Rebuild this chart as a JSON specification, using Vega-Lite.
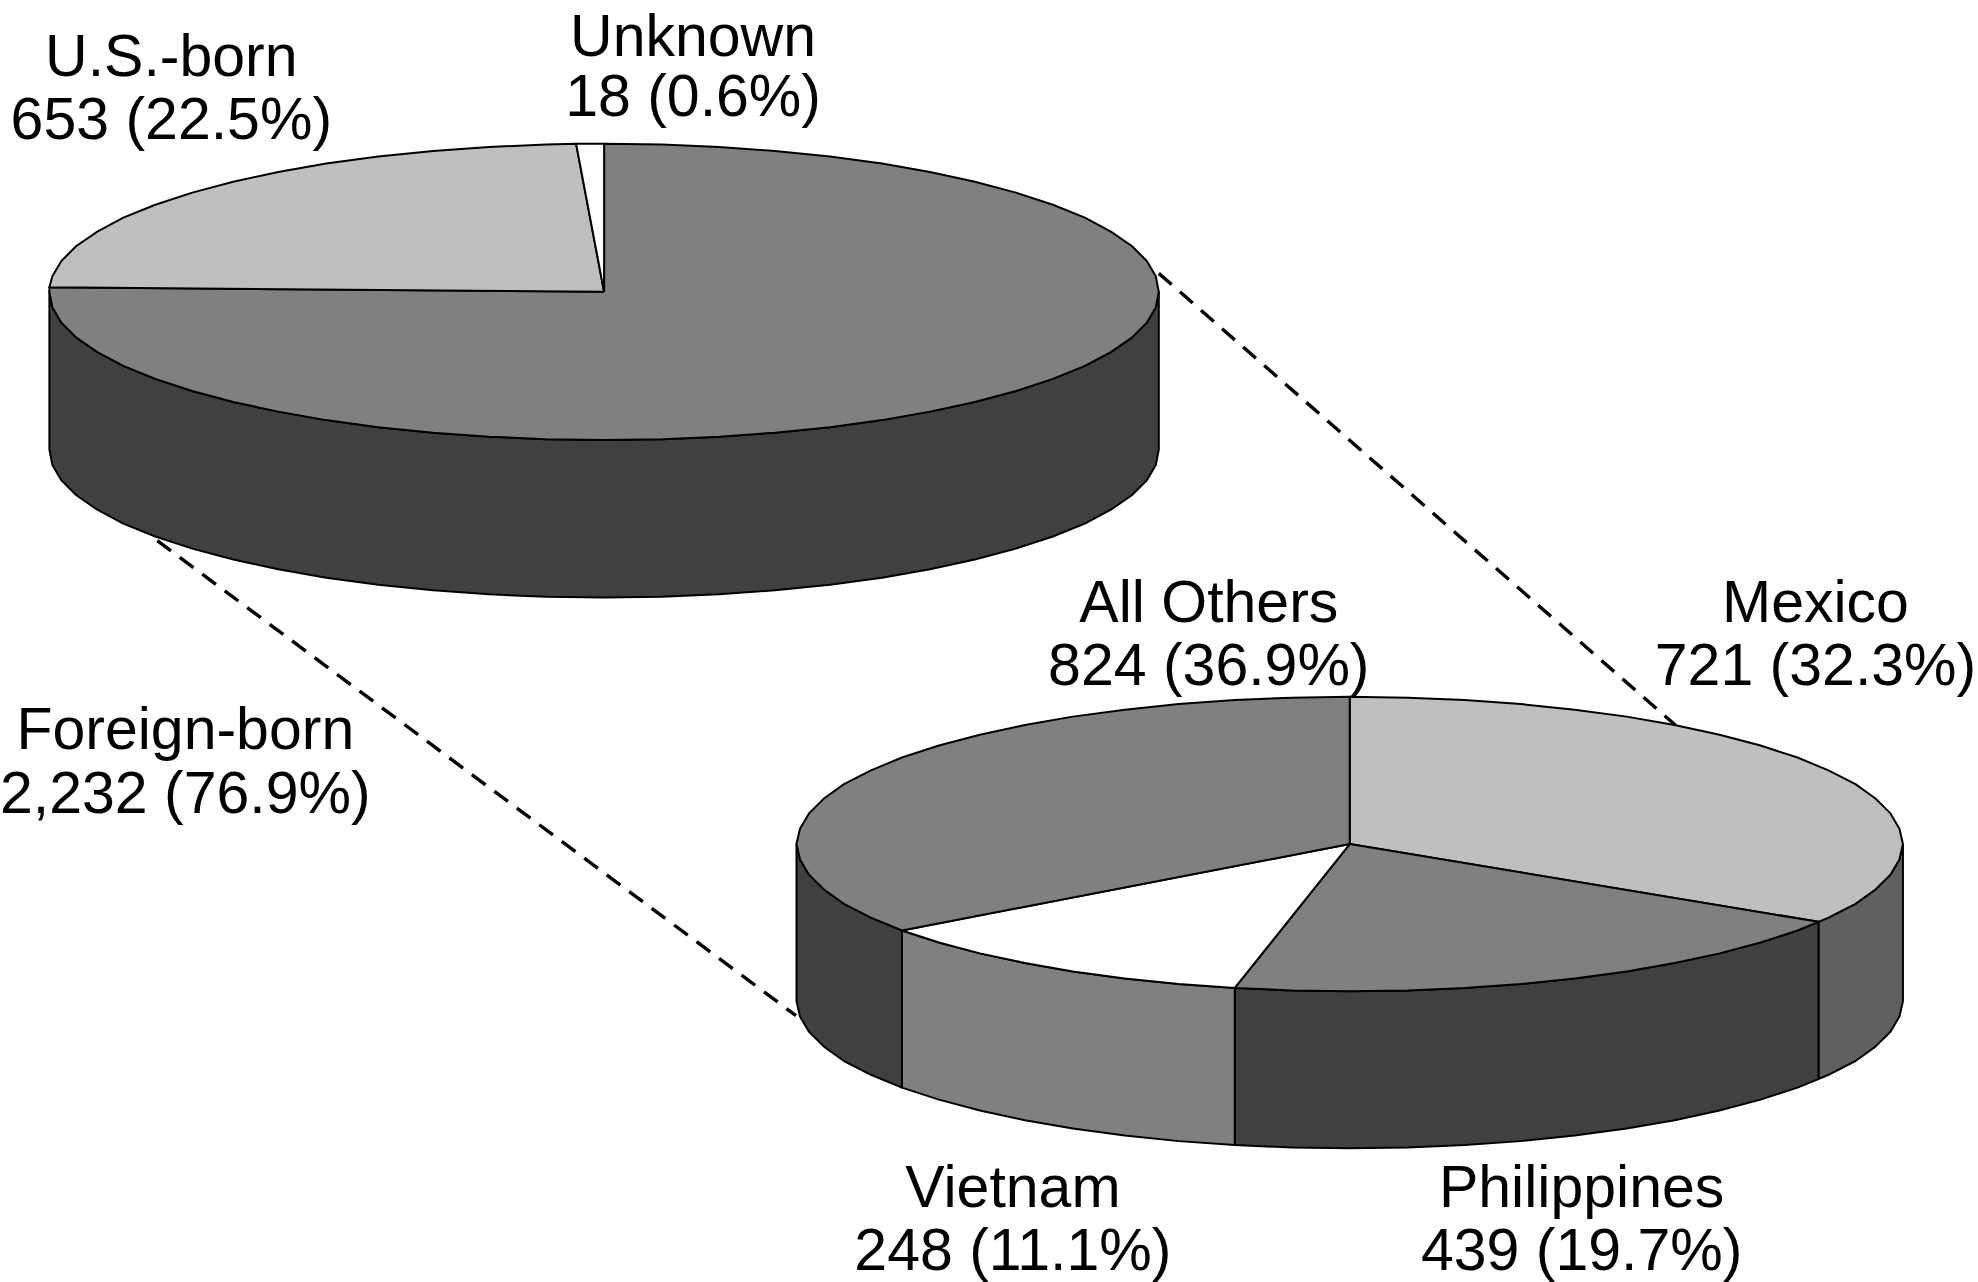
{"$schema":"https://vega.github.io/schema/vega-lite/v6.json","width":1978,"height":1282,"padding":0,"autosize":{"type":"fit","contains":"padding"},"background":"white","config":{"view":{"stroke":null}},
"encoding":{"x":{"field":"x","type":"quantitative","axis":null,"scale":{"domain":[-0.4,1977.6],"nice":false,"zero":false}},"y":{"field":"y","type":"quantitative","axis":null,"scale":{"domain":[1281,-1],"nice":false,"zero":false}}},
"layer":[
{"data":{"values":[{"link":"Mexico","x":1158,"y":273},{"link":"Mexico","x":1675,"y":726},{"link":"Foreign","x":156,"y":541},{"link":"Foreign","x":795,"y":1017}]},"mark":{"type":"line","stroke":"#000","strokeWidth":3.4,"strokeDash":[17,11]},"encoding":{"detail":{"field":"link"},"order":{"value":null}}},
{"data":{"values":[
{"part":"Foreign side","x":1158,"y":291.5},{"part":"Foreign side","x":1155,"y":307},{"part":"Foreign side","x":1146,"y":322.4},{"part":"Foreign side","x":1131,"y":337.4},{"part":"Foreign side","x":1110,"y":351.9},{"part":"Foreign side","x":1084,"y":365.8},{"part":"Foreign side","x":1052,"y":378.8},{"part":"Foreign side","x":1015,"y":390.9},{"part":"Foreign side","x":974,"y":401.9},{"part":"Foreign side","x":929,"y":411.6},{"part":"Foreign side","x":881,"y":420.1},{"part":"Foreign side","x":829,"y":427.2},{"part":"Foreign side","x":774,"y":432.7},{"part":"Foreign side","x":718,"y":436.7},{"part":"Foreign side","x":661,"y":439.2},{"part":"Foreign side","x":603,"y":440},{"part":"Foreign side","x":545,"y":439.2},{"part":"Foreign side","x":488,"y":436.7},{"part":"Foreign side","x":432,"y":432.7},{"part":"Foreign side","x":377,"y":427.2},{"part":"Foreign side","x":325,"y":420.1},{"part":"Foreign side","x":277,"y":411.6},{"part":"Foreign side","x":232,"y":401.9},{"part":"Foreign side","x":191,"y":390.9},{"part":"Foreign side","x":154,"y":378.8},{"part":"Foreign side","x":122,"y":365.8},{"part":"Foreign side","x":96,"y":351.9},{"part":"Foreign side","x":75,"y":337.4},{"part":"Foreign side","x":60,"y":322.4},{"part":"Foreign side","x":51,"y":307},{"part":"Foreign side","x":48,"y":291.5},
{"part":"Foreign side","x":48,"y":449.5},{"part":"Foreign side","x":51,"y":465},{"part":"Foreign side","x":60,"y":480.4},{"part":"Foreign side","x":75,"y":495.4},{"part":"Foreign side","x":96,"y":509.9},{"part":"Foreign side","x":122,"y":523.8},{"part":"Foreign side","x":154,"y":536.8},{"part":"Foreign side","x":191,"y":548.9},{"part":"Foreign side","x":232,"y":559.9},{"part":"Foreign side","x":277,"y":569.6},{"part":"Foreign side","x":325,"y":578.1},{"part":"Foreign side","x":377,"y":585.2},{"part":"Foreign side","x":432,"y":590.7},{"part":"Foreign side","x":488,"y":594.7},{"part":"Foreign side","x":545,"y":597.2},{"part":"Foreign side","x":603,"y":598},{"part":"Foreign side","x":661,"y":597.2},{"part":"Foreign side","x":718,"y":594.7},{"part":"Foreign side","x":774,"y":590.7},{"part":"Foreign side","x":829,"y":585.2},{"part":"Foreign side","x":881,"y":578.1},{"part":"Foreign side","x":929,"y":569.6},{"part":"Foreign side","x":974,"y":559.9},{"part":"Foreign side","x":1015,"y":548.9},{"part":"Foreign side","x":1052,"y":536.8},{"part":"Foreign side","x":1084,"y":523.8},{"part":"Foreign side","x":1110,"y":509.9},{"part":"Foreign side","x":1131,"y":495.4},{"part":"Foreign side","x":1146,"y":480.4},{"part":"Foreign side","x":1155,"y":465},{"part":"Foreign side","x":1158,"y":449.5},{"part":"Foreign side","x":1158,"y":291.5},
{"part":"Foreign top","x":603,"y":291.5},{"part":"Foreign top","x":603,"y":143},{"part":"Foreign top","x":661,"y":143.8},{"part":"Foreign top","x":718,"y":146.3},{"part":"Foreign top","x":774,"y":150.3},{"part":"Foreign top","x":829,"y":155.8},{"part":"Foreign top","x":881,"y":162.9},{"part":"Foreign top","x":929,"y":171.4},{"part":"Foreign top","x":974,"y":181.1},{"part":"Foreign top","x":1015,"y":192.1},{"part":"Foreign top","x":1052,"y":204.2},{"part":"Foreign top","x":1084,"y":217.2},{"part":"Foreign top","x":1110,"y":231.1},{"part":"Foreign top","x":1131,"y":245.6},{"part":"Foreign top","x":1146,"y":260.6},{"part":"Foreign top","x":1155,"y":276},{"part":"Foreign top","x":1158,"y":291.5},{"part":"Foreign top","x":1155,"y":307},{"part":"Foreign top","x":1146,"y":322.4},{"part":"Foreign top","x":1131,"y":337.4},{"part":"Foreign top","x":1110,"y":351.9},{"part":"Foreign top","x":1084,"y":365.8},{"part":"Foreign top","x":1052,"y":378.8},{"part":"Foreign top","x":1015,"y":390.9},{"part":"Foreign top","x":974,"y":401.9},{"part":"Foreign top","x":929,"y":411.6},{"part":"Foreign top","x":881,"y":420.1},{"part":"Foreign top","x":829,"y":427.2},{"part":"Foreign top","x":774,"y":432.7},{"part":"Foreign top","x":718,"y":436.7},{"part":"Foreign top","x":661,"y":439.2},{"part":"Foreign top","x":603,"y":440},{"part":"Foreign top","x":545,"y":439.2},{"part":"Foreign top","x":488,"y":436.7},{"part":"Foreign top","x":432,"y":432.7},{"part":"Foreign top","x":377,"y":427.2},{"part":"Foreign top","x":325,"y":420.1},{"part":"Foreign top","x":277,"y":411.6},{"part":"Foreign top","x":232,"y":401.9},{"part":"Foreign top","x":191,"y":390.9},{"part":"Foreign top","x":154,"y":378.8},{"part":"Foreign top","x":122,"y":365.8},{"part":"Foreign top","x":96,"y":351.9},{"part":"Foreign top","x":75,"y":337.4},{"part":"Foreign top","x":60,"y":322.4},{"part":"Foreign top","x":51,"y":307},{"part":"Foreign top","x":48,"y":291.5},{"part":"Foreign top","x":48,"y":287},{"part":"Foreign top","x":603,"y":291.5},
{"part":"US top","x":603,"y":291.5},{"part":"US top","x":48,"y":287},{"part":"US top","x":51,"y":276},{"part":"US top","x":60,"y":260.6},{"part":"US top","x":75,"y":245.6},{"part":"US top","x":96,"y":231.1},{"part":"US top","x":122,"y":217.2},{"part":"US top","x":154,"y":204.2},{"part":"US top","x":191,"y":192.1},{"part":"US top","x":232,"y":181.1},{"part":"US top","x":277,"y":171.4},{"part":"US top","x":325,"y":162.9},{"part":"US top","x":377,"y":155.8},{"part":"US top","x":432,"y":150.3},{"part":"US top","x":488,"y":146.3},{"part":"US top","x":545,"y":143.8},{"part":"US top","x":575,"y":143.2},{"part":"US top","x":603,"y":291.5},
{"part":"Unknown top","x":603,"y":291.5},{"part":"Unknown top","x":575,"y":143.2},{"part":"Unknown top","x":603,"y":143},{"part":"Unknown top","x":603,"y":291.5},
{"part":"Mexico side","x":1902.5,"y":845},{"part":"Mexico side","x":1899,"y":860.4},{"part":"Mexico side","x":1890,"y":875.7},{"part":"Mexico side","x":1875,"y":890.6},{"part":"Mexico side","x":1855,"y":905},{"part":"Mexico side","x":1828,"y":918.8},{"part":"Mexico side","x":1818,"y":923},{"part":"Mexico side","x":1818,"y":1080.5},{"part":"Mexico side","x":1828,"y":1076.3},{"part":"Mexico side","x":1855,"y":1062.5},{"part":"Mexico side","x":1875,"y":1048.1},{"part":"Mexico side","x":1890,"y":1033.2},{"part":"Mexico side","x":1899,"y":1017.9},{"part":"Mexico side","x":1902.5,"y":1002.5},{"part":"Mexico side","x":1902.5,"y":845},
{"part":"Philippines side","x":1818,"y":923},{"part":"Philippines side","x":1797,"y":931.7},{"part":"Philippines side","x":1760,"y":943.7},{"part":"Philippines side","x":1719,"y":954.6},{"part":"Philippines side","x":1674,"y":964.3},{"part":"Philippines side","x":1626,"y":972.7},{"part":"Philippines side","x":1574,"y":979.7},{"part":"Philippines side","x":1520,"y":985.3},{"part":"Philippines side","x":1464,"y":989.3},{"part":"Philippines side","x":1407,"y":991.7},{"part":"Philippines side","x":1349,"y":992.5},{"part":"Philippines side","x":1291,"y":991.7},{"part":"Philippines side","x":1234,"y":989.3},{"part":"Philippines side","x":1234,"y":1146.8},{"part":"Philippines side","x":1291,"y":1149.2},{"part":"Philippines side","x":1349,"y":1150},{"part":"Philippines side","x":1407,"y":1149.2},{"part":"Philippines side","x":1464,"y":1146.8},{"part":"Philippines side","x":1520,"y":1142.8},{"part":"Philippines side","x":1574,"y":1137.2},{"part":"Philippines side","x":1626,"y":1130.2},{"part":"Philippines side","x":1674,"y":1121.8},{"part":"Philippines side","x":1719,"y":1112.1},{"part":"Philippines side","x":1760,"y":1101.2},{"part":"Philippines side","x":1797,"y":1089.2},{"part":"Philippines side","x":1818,"y":1080.5},{"part":"Philippines side","x":1818,"y":923},
{"part":"Vietnam side","x":1234,"y":989.3},{"part":"Vietnam side","x":1178,"y":985.3},{"part":"Vietnam side","x":1124,"y":979.7},{"part":"Vietnam side","x":1072,"y":972.7},{"part":"Vietnam side","x":1024,"y":964.3},{"part":"Vietnam side","x":979,"y":954.6},{"part":"Vietnam side","x":938,"y":943.7},{"part":"Vietnam side","x":901,"y":931.7},{"part":"Vietnam side","x":901,"y":1089.2},{"part":"Vietnam side","x":938,"y":1101.2},{"part":"Vietnam side","x":979,"y":1112.1},{"part":"Vietnam side","x":1024,"y":1121.8},{"part":"Vietnam side","x":1072,"y":1130.2},{"part":"Vietnam side","x":1124,"y":1137.2},{"part":"Vietnam side","x":1178,"y":1142.8},{"part":"Vietnam side","x":1234,"y":1146.8},{"part":"Vietnam side","x":1234,"y":989.3},
{"part":"Others side","x":901,"y":931.7},{"part":"Others side","x":870,"y":918.8},{"part":"Others side","x":843,"y":905},{"part":"Others side","x":823,"y":890.6},{"part":"Others side","x":808,"y":875.7},{"part":"Others side","x":799,"y":860.4},{"part":"Others side","x":795.5,"y":845},{"part":"Others side","x":795.5,"y":1002.5},{"part":"Others side","x":799,"y":1017.9},{"part":"Others side","x":808,"y":1033.2},{"part":"Others side","x":823,"y":1048.1},{"part":"Others side","x":843,"y":1062.5},{"part":"Others side","x":870,"y":1076.3},{"part":"Others side","x":901,"y":1089.2},{"part":"Others side","x":901,"y":931.7},
{"part":"Mexico top","x":1349,"y":845},{"part":"Mexico top","x":1349,"y":697.5},{"part":"Mexico top","x":1407,"y":698.3},{"part":"Mexico top","x":1464,"y":700.7},{"part":"Mexico top","x":1520,"y":704.7},{"part":"Mexico top","x":1574,"y":710.3},{"part":"Mexico top","x":1626,"y":717.3},{"part":"Mexico top","x":1674,"y":725.7},{"part":"Mexico top","x":1719,"y":735.4},{"part":"Mexico top","x":1760,"y":746.3},{"part":"Mexico top","x":1797,"y":758.3},{"part":"Mexico top","x":1828,"y":771.2},{"part":"Mexico top","x":1855,"y":785},{"part":"Mexico top","x":1875,"y":799.4},{"part":"Mexico top","x":1890,"y":814.3},{"part":"Mexico top","x":1899,"y":829.6},{"part":"Mexico top","x":1902.5,"y":845},{"part":"Mexico top","x":1899,"y":860.4},{"part":"Mexico top","x":1890,"y":875.7},{"part":"Mexico top","x":1875,"y":890.6},{"part":"Mexico top","x":1855,"y":905},{"part":"Mexico top","x":1828,"y":918.8},{"part":"Mexico top","x":1818,"y":923},{"part":"Mexico top","x":1349,"y":845},
{"part":"Philippines top","x":1349,"y":845},{"part":"Philippines top","x":1818,"y":923},{"part":"Philippines top","x":1797,"y":931.7},{"part":"Philippines top","x":1760,"y":943.7},{"part":"Philippines top","x":1719,"y":954.6},{"part":"Philippines top","x":1674,"y":964.3},{"part":"Philippines top","x":1626,"y":972.7},{"part":"Philippines top","x":1574,"y":979.7},{"part":"Philippines top","x":1520,"y":985.3},{"part":"Philippines top","x":1464,"y":989.3},{"part":"Philippines top","x":1407,"y":991.7},{"part":"Philippines top","x":1349,"y":992.5},{"part":"Philippines top","x":1291,"y":991.7},{"part":"Philippines top","x":1234,"y":989.3},{"part":"Philippines top","x":1349,"y":845},
{"part":"Vietnam top","x":1349,"y":845},{"part":"Vietnam top","x":1234,"y":989.3},{"part":"Vietnam top","x":1178,"y":985.3},{"part":"Vietnam top","x":1124,"y":979.7},{"part":"Vietnam top","x":1072,"y":972.7},{"part":"Vietnam top","x":1024,"y":964.3},{"part":"Vietnam top","x":979,"y":954.6},{"part":"Vietnam top","x":938,"y":943.7},{"part":"Vietnam top","x":901,"y":931.7},{"part":"Vietnam top","x":1349,"y":845},
{"part":"Others top","x":1349,"y":845},{"part":"Others top","x":901,"y":931.7},{"part":"Others top","x":870,"y":918.8},{"part":"Others top","x":843,"y":905},{"part":"Others top","x":823,"y":890.6},{"part":"Others top","x":808,"y":875.7},{"part":"Others top","x":799,"y":860.4},{"part":"Others top","x":795.5,"y":845},{"part":"Others top","x":799,"y":829.6},{"part":"Others top","x":808,"y":814.3},{"part":"Others top","x":823,"y":799.4},{"part":"Others top","x":843,"y":785},{"part":"Others top","x":870,"y":771.2},{"part":"Others top","x":901,"y":758.3},{"part":"Others top","x":938,"y":746.3},{"part":"Others top","x":979,"y":735.4},{"part":"Others top","x":1024,"y":725.7},{"part":"Others top","x":1072,"y":717.3},{"part":"Others top","x":1124,"y":710.3},{"part":"Others top","x":1178,"y":704.7},{"part":"Others top","x":1234,"y":700.7},{"part":"Others top","x":1291,"y":698.3},{"part":"Others top","x":1349,"y":697.5},{"part":"Others top","x":1349,"y":845}
]},"mark":{"type":"line","stroke":"#000","strokeWidth":2,"strokeJoin":"round"},"encoding":{"order":{"value":null},"fill":{"field":"part","type":"nominal","legend":null,"scale":{"domain":["Foreign side","Foreign top","US top","Unknown top","Mexico side","Philippines side","Vietnam side","Others side","Mexico top","Philippines top","Vietnam top","Others top"],"range":["#404040","#808080","#bfbfbf","#ffffff","#606060","#404040","#808080","#404040","#bfbfbf","#808080","#ffffff","#808080"]}}}},
{"data":{"values":[
{"t":"U.S.-born","x":170,"y":75},{"t":"653 (22.5%)","x":170,"y":138},
{"t":"Unknown","x":692,"y":55},{"t":"18 (0.6%)","x":692,"y":115},
{"t":"Foreign-born","x":184,"y":750},{"t":"2,232 (76.9%)","x":184,"y":814},
{"t":"All Others","x":1208,"y":622},{"t":"824 (36.9%)","x":1208,"y":686},
{"t":"Mexico","x":1815,"y":622},{"t":"721 (32.3%)","x":1815,"y":686},
{"t":"Vietnam","x":1012,"y":1209},{"t":"248 (11.1%)","x":1012,"y":1272},
{"t":"Philippines","x":1581,"y":1209},{"t":"439 (19.7%)","x":1581,"y":1272}
]},"mark":{"type":"text","font":"Liberation Sans","fontSize":59,"align":"center","baseline":"alphabetic","color":"#000"},"encoding":{"text":{"field":"t","type":"nominal"}}}
]}
